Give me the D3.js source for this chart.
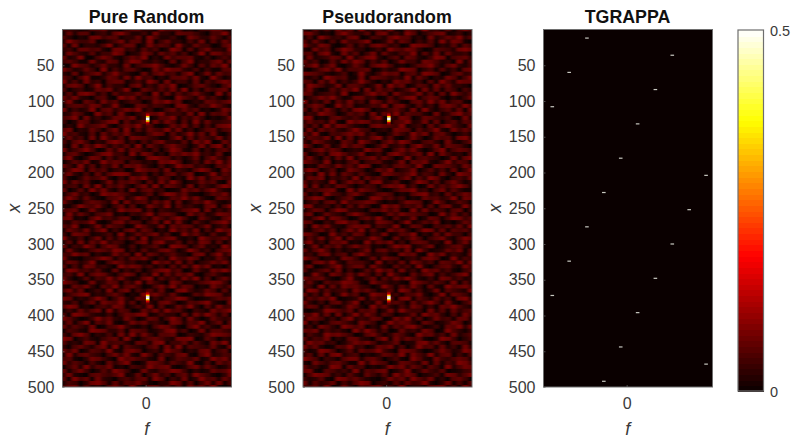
<!DOCTYPE html>
<html><head><meta charset="utf-8">
<script src="https://cdn.jsdelivr.net/npm/d3@7"></script>
<style>html,body{margin:0;padding:0;background:#fff}svg{display:block;font-family:"Liberation Sans",Arial,sans-serif}</style>
</head><body><svg id="c" width="800" height="446"></svg>
<script>
const titles = ["Pure Random", "Pseudorandom", "TGRAPPA"];
const xTicks = [50,100,150,200,250,300,350,400,450,500];
const fTicks = [0];
// Background speckle, hand-estimated texture (not cell-exact): one digit per cell, digit x 0.0095 = signal
const noiseA = [
"443125572204663318556120447731","172660341795224083317664205592","530218846613370952241086337415","296447013582661904733152806274",
"618033259147702846519327440168","341775620883416350297061583329","085326144970238617462503918746","723900586214759031846672140353",
"464118327605983242070591336827","109652473318046795213840627591","852374091526630184977325041166","317046825943107268451690382745",
"640591137628294503166738209413","925183406771352960824417053686","278604915330681427590136742058","503412768249017536382905164671",
"161897250634473091726358420917","748320561096825473109642835204","392075184613540286957013276468","056648723920176354208831549631",
"814239067358692401573746120385","237510946182035769344280916572","569082413775814026691537402138","402761358906247183850619273345",
"131945682047593610274826051789","680327415819062754938140367256","945216073648321587062493718104","273508194260876431159072643825",
"516840327971405268332618590174","308174962536190742685403827916","824695017382763150497216041563","167302589440928613075869342701",
"592038716254301897624137058426","036481295760542318796025184937","741926053817684205139673420658","259807461340197562804316972085",
"483150726998235041672580139264","610374582041869327503194826745","927461038265740618395023746108","345082916473058291764180532697",
"702619483150926734012857369421","158340297864213605984721036582","496273105682497130265948310764","830157642908356274817036495213",
"214965830471602853906342178059","567028314296781504323679081425","093741568120435926751084623876","781206945367014285369510742168",
"326459102783650471928206315794","649013827540196328075762481350","175382690416827503194638052967","408761235091374682501947316228",
"932504816263719045782130964573","260817493540268179336052871604","714396058721503462098614723195","083125764980416237851396240578",
"549670312846091752463207815936","821034697152768304195486032741","376249105863412095728160347582","605187342096873514062739581204",
"198453620714250368946017328695","452906873158604291737581046312","730261549483127906352849160473","964018237605391742086123579840",
"217583064926740158493760218536","583702419168053627108942375061","046891325740219685372016498723","871325960483176042569830124657",
"325047186592604317840265793108","698120453871352906127493062845","142736809265017483956204318579","509863214047689125330718496260",
"863014957328402761596183027434","271590648103857342087265914706","736428015694213058741069352187","054219873360765124893502816643",
"417960325082938416670143259875","980352146719204675328890164032","623187094553076289144726308591","305742681906431570829165437218",
"748026539217860341965032781460","192674305848219506437810692354","561038742096754218036547129683","836415207369102875264391050746",
"047293658120543967810268374125","715840263974018325698403127569","382106754691270483505729641038","609571832045367196042813956274",
"254038961726584103397160482815","478162305841920673526084739102"];
const noiseB = [
"306251847092463810752934160585","784120695336078241960357812403","150963427801542796613082475936","627305184469013827504261938710",
"943871026152786340198750326164","218460597330241965873016542897","561792083604817325490628173340","082347619258930461762149805673",
"735016284971526038441875230916","469258103740689512036794168325","103684925567014239870351624078","876421350293148670562986015734",
"324097561180765342917403286159","650738142495203186734061952877","197523806641380957026518473320","482016375908274613590827164053",
"761345290126957084348260719536","035869412773401625891576203148","914270638350862741067394825610","258601947123549078316240786395",
"607384152896023574180931462708","143975026460817392655208137946","890216743531690428702764351082","374528109687341056923817046265",
"526093874210786549134072695318","081746325954023187606359218474","739105468682510374295816730241","265480917043792610384027561893",
"418632075196305849721563082147","950271384760148235069438176520","136847502329671058483026915764","702518963481240796357190842306",
"483061729156837402915643028179","864290315704562138076821493650","021753846398014267539108764285","597136028640275913480362517049",
"340928175263108754692541830976","176804352917463025816397204538","625319048570892361049726158413","908142763035416879250183647962",
"254678109386520147793405826311","713095426841367502168934072586","469820357102984635021756349187","035167294568730214876029513640",
"892341506274019683547160782293","147605983320658471092835416704","580274316963102748665401937251","326918740157493062380276159846",
"761042895603287514913648020375","409583216878154390276105463729","215736048491620857304982716563","874019352760438126590317284405",
"163825907334961072485046831597","592407681209375814067623190482","038164725856120497913580246731","726950413148067352809412375806",
"341782560695234108671095824317","965023187402718650342786019254","207849316553091427186350764928","480136925771842063519204673185",
"613572804026395718240967351046","129408637385160942073681524790","856731049214706385962140873523","372064598610854231097536418062",
"540917286743029516384072196785","098263451857413609725138064329","725180394602976341558203917640","264759012381645708916427350893",
"831406725903281564073695182047","476052138620947315286140769532","102398647165703829544082617356","659270814938516402371967305184",
"387514069243760185926038451772","914026753186402957630751248603","240863197570318264895124076938","768153420949625017342860195314",
"053297864016841375209673518246","625480317732069184756102984035","196734025868513470228947306651","847201659340276815039561724083",
"412985036175694208763014852397","360718924502137649185392670416","975043168826740351096218435762","208536741193865027642807153984",
"634129807450213968375164092587","781065342916578024913743601245","059872416307426195860235187369","423610985742103857296481306740",
"816347052698034162745920381516","547290183065781429033167825094"];
// Central peaks in the two noise panels
const peakRows = [125, 375];
const peakF = [0.012, 0.016];
const peakOffsets = [-9,-7,-5,-3,-1,1,3,5,7,9];
const peakValues = [0.06,0.1,0.16,0.34,0.5,0.5,0.36,0.16,0.1,0.06];
// TGRAPPA aliased replicas: row and frequency of each point
const spotX = [12,36,60,84,108,132,180,204,228,252,276,300,324,348,372,396,444,468,492];
const spotF = [-0.235,0.27,-0.34,0.17,-0.44,0.065,-0.035,0.47,-0.135,0.37,-0.235,0.27,-0.34,0.17,-0.44,0.065,-0.035,0.47,-0.135];
const cbarTicks = [0, 0.5];

const svg = d3.select("#c");
const textCol = "#3a3a3a", frameCol = "#6e6e6e";
const defs = svg.append("defs");
defs.append("filter").attr("id","soft").attr("x","-5%").attr("y","-5%").attr("width","110%").attr("height","110%")
  .append("feGaussianBlur").attr("stdDeviation","1.4 0.6");
defs.append("filter").attr("id","softPeak").attr("x","-100%").attr("y","-30%").attr("width","300%").attr("height","160%")
  .append("feGaussianBlur").attr("stdDeviation","0.6 0.5");

const hot = d3.scaleLinear().domain([0,0.1875,0.375,0.5]).range(["#0a0000","#ff0000","#ffff00","#ffffff"]).clamp(true);
const panelLefts = [62.5,303,543.5];
const panelW = 169, plotTop = 29.5, plotH = 357.5;
const yS = d3.scaleLinear().domain([0,500]).range([plotTop, plotTop+plotH]);

titles.forEach((t,i)=>{
  const L = panelLefts[i];
  const fS = d3.scaleLinear().domain([-0.492,0.508]).range([L,L+panelW]);
  const g = svg.append("g");
  defs.append("clipPath").attr("id","cp"+i).append("rect").attr("x",L).attr("y",plotTop).attr("width",panelW).attr("height",plotH);
  g.append("rect").attr("x",L).attr("y",plotTop).attr("width",panelW).attr("height",plotH).attr("fill",hot(0));
  const body = g.append("g").attr("clip-path",`url(#cp${i})`);
  if(i<2){
    const rows = i===0?noiseA:noiseB;
    const rowS = d3.scaleBand().domain(d3.range(rows.length)).range([plotTop-2,plotTop+plotH+2]);
    const colS = d3.scaleBand().domain(d3.range(rows[0].length)).range([L-2,L+panelW+2]);
    const cells = rows.flatMap((r,ri)=>Array.from(r,(d,ci)=>({ri,ci,v:+d*0.0095})));
    body.append("g").attr("filter","url(#soft)").selectAll("rect").data(cells).join("rect")
      .attr("x",d=>colS(d.ci)).attr("y",d=>rowS(d.ri))
      .attr("width",colS.bandwidth()+.3).attr("height",rowS.bandwidth()+.3)
      .attr("fill",d=>hot(d.v));
    const pk = peakRows.flatMap(r=>peakOffsets.map((o,k)=>({x:r+o,v:peakValues[k]})));
    body.append("g").attr("filter","url(#softPeak)").selectAll("rect").data(pk).join("rect")
      .attr("x",fS(peakF[i])-1.75).attr("width",3.5)
      .attr("y",d=>yS(d.x-1)).attr("height",yS(2)-yS(0)+.2)
      .attr("fill",d=>hot(d.v));
  } else {
    body.selectAll("rect.s").data(spotX).join("rect").attr("class","s")
      .attr("x",(d,k)=>fS(spotF[k])-1.8).attr("width",3.6)
      .attr("y",d=>yS(d)-.6).attr("height",1.2)
      .attr("fill","#c8c8c0");
  }
  const ax = d3.axisLeft(yS).tickValues(xTicks).tickSize(-2).tickPadding(8);
  const gy = g.append("g").attr("transform",`translate(${L},0)`).call(ax);
  const bx = d3.axisBottom(fS).tickValues(fTicks).tickFormat(d3.format("d")).tickSize(-2).tickPadding(11);
  const gx = g.append("g").attr("transform",`translate(0,${plotTop+plotH})`).call(bx);
  [gy,gx].forEach(a=>{
    a.selectAll("text").attr("fill",textCol).attr("font-size",16).attr("font-family",'"Liberation Sans",Arial,sans-serif');
    a.selectAll("line").attr("stroke",frameCol).attr("stroke-width",.7);
    a.select(".domain").remove();
  });
  g.append("rect").attr("x",L).attr("y",plotTop).attr("width",panelW).attr("height",plotH)
    .attr("fill","none").attr("stroke",frameCol).attr("stroke-width",1);
  g.append("text").attr("x",L+panelW/2-.5).attr("y",23).attr("text-anchor","middle")
    .attr("font-weight","bold").attr("font-size",17.8).attr("fill","#111").text(t);
  g.append("text").attr("transform",`translate(${L-42.5},${plotTop+plotH/2}) rotate(-90)`).attr("text-anchor","middle")
    .attr("font-style","italic").attr("font-size",18).attr("fill",textCol).text("x");
  g.append("text").attr("x",fS(0)+1).attr("y",435).attr("text-anchor","middle")
    .attr("font-style","italic").attr("font-size",18).attr("fill",textCol).text("f");
});

const cbS = d3.scaleLinear().domain([0,0.5]).range([391,30]);
const levels = d3.range(64).map(k=>k/64*0.5);
const cb = svg.append("g");
cb.selectAll("rect").data(levels).join("rect")
  .attr("x",738).attr("width",25.5).attr("shape-rendering","crispEdges")
  .attr("y",d=>cbS(d+0.5/64)).attr("height",cbS(0)-cbS(0.5/64)+1)
  .attr("fill",d=>hot(d+0.25/64));
cb.append("rect").attr("x",738).attr("y",30).attr("width",25.5).attr("height",361)
  .attr("fill","none").attr("stroke",frameCol).attr("stroke-width",1.2);
cb.selectAll("text").data(cbarTicks).join("text")
  .attr("x",770).attr("y",d=>cbS(d)+ (d===0?5.5:6)).attr("font-size",14.5).attr("fill",textCol)
  .text(d=>d3.format("")(d));
</script></body></html>
